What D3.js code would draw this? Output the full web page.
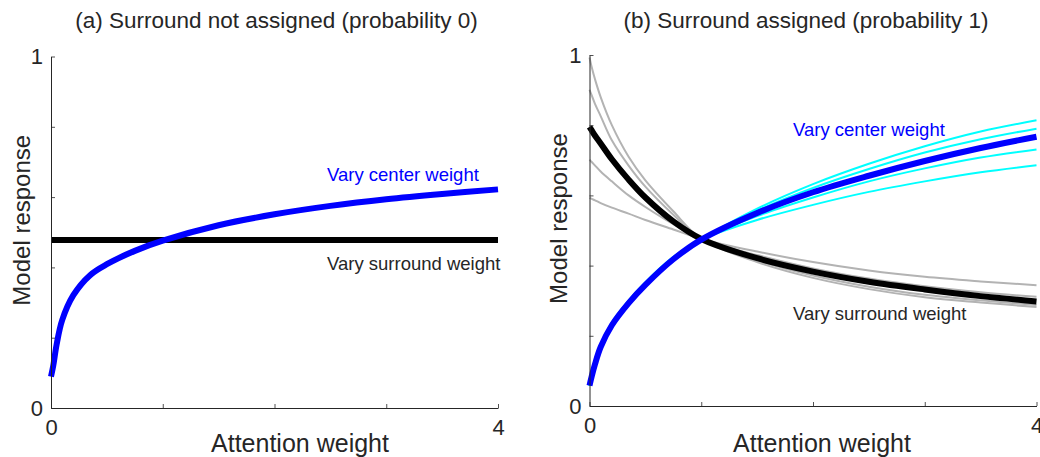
<!DOCTYPE html>
<html>
<head>
<meta charset="utf-8">
<script src="https://cdn.jsdelivr.net/npm/d3@7"></script>
<style>
  body { margin: 0; background: #fff; }
  text { font-family: "Liberation Sans", Arial, Helvetica, sans-serif; fill: #262626; }
</style>
</head>
<body>
<svg id="chart" width="1040" height="457"></svg>
<script>
// attention weights the curves were read at
const weights = [0, 0.02, 0.05, 0.1, 0.2, 0.35, 0.5, 0.75, 1, 1.5, 2, 2.5, 3, 3.5, 4];

// (a) surround not assigned
const aCenter   = [0.089, 0.12, 0.18, 0.25, 0.321, 0.378, 0.409, 0.447, 0.476, 0.52, 0.551, 0.575, 0.594, 0.609, 0.622];
const aSurround = [0.478, 0.478, 0.478, 0.478, 0.478, 0.478, 0.478, 0.478, 0.478, 0.478, 0.478, 0.478, 0.478, 0.478, 0.478];

// (b) surround assigned - thick curves
const bCenter   = [0.058, 0.085, 0.12, 0.168, 0.23, 0.293, 0.345, 0.418, 0.474, 0.55, 0.609, 0.656, 0.698, 0.735, 0.767];
const bSurround = [0.795, 0.785, 0.77, 0.748, 0.703, 0.645, 0.594, 0.526, 0.476, 0.421, 0.383, 0.354, 0.332, 0.313, 0.298];

// (b) thin cyan curves (other center settings)
const bCenterAlt = [
  [0.058, 0.083, 0.117, 0.165, 0.227, 0.290, 0.342, 0.415, 0.474, 0.562, 0.632, 0.690, 0.740, 0.782, 0.814],
  [0.058, 0.084, 0.118, 0.166, 0.228, 0.291, 0.343, 0.416, 0.474, 0.556, 0.621, 0.675, 0.722, 0.760, 0.790],
  [0.058, 0.087, 0.124, 0.173, 0.235, 0.298, 0.350, 0.422, 0.474, 0.541, 0.594, 0.640, 0.677, 0.708, 0.731],
  [0.058, 0.089, 0.127, 0.176, 0.238, 0.301, 0.353, 0.425, 0.474, 0.530, 0.573, 0.610, 0.640, 0.666, 0.686]
];

// (b) thin gray curves (other surround settings)
const bSurroundAlt = [
  [0.993, 0.965, 0.93, 0.88, 0.80, 0.71, 0.643, 0.555, 0.476, 0.41, 0.365, 0.333, 0.31, 0.295, 0.282],
  [0.901, 0.885, 0.86, 0.826, 0.757, 0.685, 0.625, 0.545, 0.476, 0.415, 0.372, 0.34, 0.317, 0.301, 0.288],
  [0.702, 0.695, 0.685, 0.668, 0.64, 0.60, 0.567, 0.518, 0.476, 0.43, 0.392, 0.363, 0.341, 0.324, 0.311],
  [0.593, 0.59, 0.586, 0.578, 0.565, 0.548, 0.53, 0.503, 0.476, 0.44, 0.41, 0.386, 0.368, 0.355, 0.344]
];

const titles = ["(a) Surround not assigned (probability 0)", "(b) Surround assigned (probability 1)"];

const svg = d3.select("#chart");

const panels = [
  { x0: 51, x1: 498, y0: 408, y1: 56.5, title: titles[0], titleX: 276.5, xLabelX: 300, yLabelX: 30,
    thin: [], thick: [{ v: aSurround, c: "#000" }, { v: aCenter, c: "#0000ff" }],
    centerLabel: [327, 181], surroundLabel: [327, 270] },
  { x0: 589.5, x1: 1036.5, y0: 406, y1: 55, title: titles[1], titleX: 806, xLabelX: 822, yLabelX: 567,
    thin: bSurroundAlt.map(v => ({ v, c: "#b3b3b3" })).concat(bCenterAlt.map(v => ({ v, c: "#00ffff" }))),
    thick: [{ v: bSurround, c: "#000" }, { v: bCenter, c: "#0000ff" }],
    centerLabel: [793, 136], surroundLabel: [793, 320] }
];

panels.forEach(p => {
  const x = d3.scaleLinear().domain([0, 4]).range([p.x0, p.x1]);
  const y = d3.scaleLinear().domain([0, 1]).range([p.y0, p.y1]);
  const g = svg.append("g");

  const line = d3.line()
    .x((d, i) => x(weights[i]))
    .y(d => y(d))
    .curve(d3.curveCatmullRom.alpha(0.5));

  g.selectAll("path.thin")
    .data(p.thin)
    .enter().append("path")
      .attr("class", "thin")
      .attr("d", d => line(d.v))
      .attr("fill", "none")
      .attr("stroke", d => d.c)
      .attr("stroke-width", 2);

  g.selectAll("path.thick")
    .data(p.thick)
    .enter().append("path")
      .attr("class", "thick")
      .attr("d", d => line(d.v))
      .attr("fill", "none")
      .attr("stroke", d => d.c)
      .attr("stroke-width", 6);

  // axes, ticks point inward
  const xAxis = d3.axisBottom(x).tickValues([0, 1, 2, 3, 4]).tickSizeInner(-4).tickSizeOuter(0)
    .tickFormat(d => (d === 0 || d === 4) ? d : "").tickPadding(10);
  const yAxis = d3.axisLeft(y).tickValues([0, 0.2, 0.4, 0.6, 0.8, 1]).tickSizeInner(-4).tickSizeOuter(0)
    .tickFormat(d => (d === 0 || d === 1) ? d : "").tickPadding(8);

  const gx = g.append("g").attr("transform", `translate(0,${p.y0})`).call(xAxis);
  const gy = g.append("g").attr("transform", `translate(${p.x0},0)`).call(yAxis);
  [gx, gy].forEach(a => {
    a.select(".domain").attr("stroke", "#262626").attr("stroke-width", 1);
    a.selectAll(".tick line").attr("stroke", "#262626").attr("stroke-width", 0.8);
    a.selectAll(".tick text").style("font-size", "22px").attr("fill", "#262626")
      .style("font-family", "'Liberation Sans', Arial, sans-serif");
  });
  gx.selectAll(".tick text").attr("dy", "0.78em");

  g.append("text")
    .attr("x", p.titleX)
    .attr("y", 28)
    .attr("text-anchor", "middle")
    .style("font-size", "22.5px")
    .text(p.title);

  g.append("text")
    .attr("x", p.xLabelX)
    .attr("y", 452)
    .attr("text-anchor", "middle")
    .style("font-size", "25px")
    .text("Attention weight");

  g.append("text")
    .attr("transform", `translate(${p.yLabelX},${(p.y0 + p.y1) / 2 - 12}) rotate(-90)`)
    .attr("text-anchor", "middle")
    .style("font-size", "24px")
    .text("Model response");

  g.append("text")
    .attr("x", p.centerLabel[0]).attr("y", p.centerLabel[1])
    .style("font-size", "18.5px")
    .style("fill", "#0000ff")
    .text("Vary center weight");

  g.append("text")
    .attr("x", p.surroundLabel[0]).attr("y", p.surroundLabel[1])
    .style("font-size", "18.5px")
    .text("Vary surround weight");
});
</script>
</body>
</html>
